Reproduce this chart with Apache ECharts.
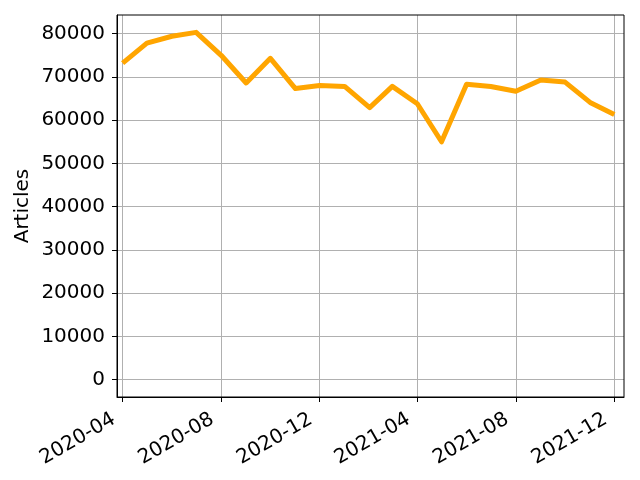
<!DOCTYPE html>
<html>
<head>
<meta charset="utf-8">
<script src="https://cdn.jsdelivr.net/npm/echarts@6/dist/echarts.min.js"></script>
<style>html,body{margin:0;padding:0;background:#fff}#c{width:640px;height:480px}</style>
</head>
<body>
<div id="c"></div>
<script>
const months = ['2020-04','2020-05','2020-06','2020-07','2020-08','2020-09','2020-10','2020-11','2020-12',
  '2021-01','2021-02','2021-03','2021-04','2021-05','2021-06','2021-07','2021-08','2021-09','2021-10','2021-11','2021-12'];
const articles = [73200,77800,79400,80300,75000,68600,74300,67300,68000,67800,62900,67800,63800,55000,68300,67800,66700,69300,68800,64100,61300];
const xTickLabels = ['2020-04','2020-08','2020-12','2021-04','2021-08','2021-12'];
const yTickValues = [0,10000,20000,30000,40000,50000,60000,70000,80000];

function ts(m){ const p=m.split('-'); return Date.UTC(+p[0], +p[1]-1, 1); }
const DAY = 86400000;
const xMin = ts(months[0]) - 7*DAY;
const xMax = ts(months[months.length-1]) + 12*DAY;
const xTicks = xTickLabels.map(ts);

const G = {left:117, right:16, top:15, bottom:83};
const chart = echarts.init(document.getElementById('c'), null, {renderer:'canvas'});
const font = 'DejaVu Sans';
chart.setOption({
  animation:false,
  grid:{left:G.left, right:G.right, top:G.top, bottom:G.bottom, show:false},
  xAxis:{
    type:'value', min:xMin, max:xMax, scale:true,
    axisLine:{show:true, onZero:false, lineStyle:{color:'#000', width:1}},
    axisTick:{show:true, length:5, lineStyle:{color:'#000'}, customValues:xTicks},
    axisLabel:{rotate:30, margin:16, padding:[0,10,0,0], fontSize:20, color:'#000', fontFamily:font, customValues:xTicks,
      formatter:function(v){ const d=new Date(v); const i=xTicks.indexOf(v); return i>=0 ? xTickLabels[i] : d.getUTCFullYear()+'-'+String(d.getUTCMonth()+1).padStart(2,'0'); }},
    splitLine:{show:true, lineStyle:{color:'#b0b0b0', width:1}}
  },
  yAxis:{
    type:'value', min:-4015, max:84315,
    name:'Articles', nameLocation:'middle', nameGap:84, nameRotate:90, nameMoveOverlap:false,
    nameTextStyle:{fontSize:20, color:'#000', fontFamily:font},
    axisLine:{show:true, onZero:false, lineStyle:{color:'#000', width:1}},
    axisTick:{show:true, length:5, lineStyle:{color:'#000'}, customValues:yTickValues},
    axisLabel:{margin:12, fontSize:20, color:'#000', fontFamily:font, customValues:yTickValues,
      formatter:function(v){ return String(v); }},
    splitLine:{show:true, lineStyle:{color:'#b0b0b0', width:1}}
  },
  graphic:[{type:'rect', shape:{x:G.left, y:G.top, width:640-G.left-G.right, height:480-G.top-G.bottom},
    style:{fill:null, stroke:'#000', lineWidth:1}, z:10, silent:true}],
  series:[{
    type:'line', data:months.map((m,i)=>[ts(m), articles[i]]),
    showSymbol:false, symbol:'none',
    lineStyle:{color:'#ffa500', width:5, join:'round', cap:'butt'},
    itemStyle:{color:'#ffa500'}
  }]
});
</script>
</body>
</html>
